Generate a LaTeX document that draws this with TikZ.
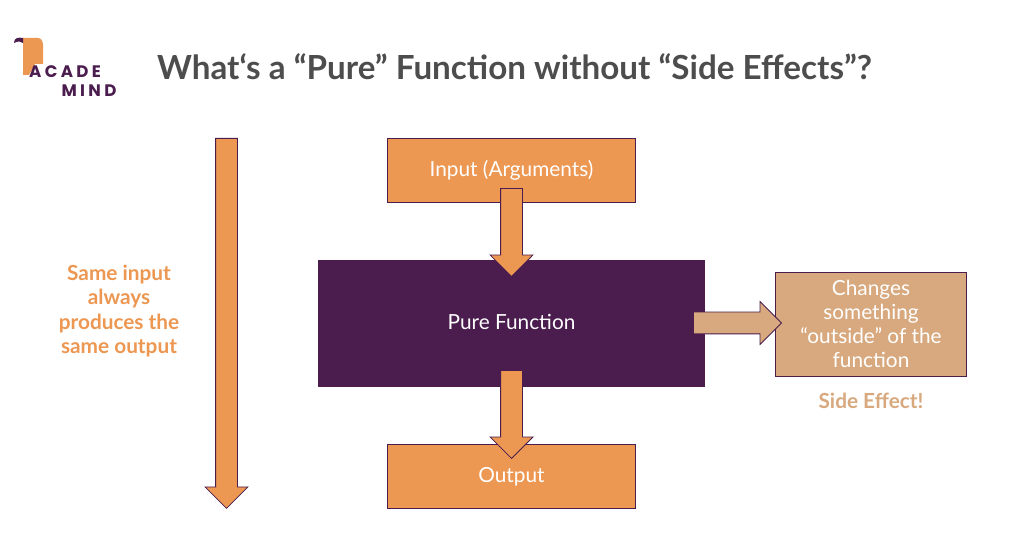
\documentclass[tikz,border=0pt]{standalone}
\usepackage{fontspec}
\setmainfont{Lato}
\newfontfamily\logofont[LetterSpace=20]{Poppins}
\usetikzlibrary{shapes.arrows}
\definecolor{amorange}{HTML}{EC9752}
\definecolor{ampurple}{HTML}{4A1D4E}
\definecolor{amtan}{HTML}{D8A97E}
\definecolor{amgrey}{HTML}{4D4D4D}
\tikzset{
  box/.style={draw=ampurple,line width=0.6pt,inner sep=0pt,align=center,text=white,font=\fontsize{15.6}{18.1}\selectfont},
  inputbox/.style={box,fill=amorange,minimum width=185.5pt,minimum height=48pt,text height=12pt,text depth=1.5pt},
  blockarrow/.style={single arrow,draw=ampurple,line width=0.6pt,fill=amorange,inner sep=0pt,
    text height=15.75pt,text depth=0pt,text width=0pt,single arrow head extend=7.875pt,single arrow tip angle=90},
  note/.style={align=center,font=\fontsize{15.6}{18.2}\bfseries\selectfont},
  logotext/.style={text=ampurple,inner sep=0pt,font=\logofont\fontsize{12.5}{14}\bfseries\selectfont},
}
\begin{document}
\begin{tikzpicture}[x=0.75pt,y=-0.75pt]
    \useasboundingbox (0,0) rectangle (1018,548);

    % logo
    \fill[amorange] (23,38) -- (38,38) .. controls (41,38) and (43,41) .. (43,45) -- (43,64) -- (35,64) -- (29,75) -- (23,75) -- cycle;
    \fill[ampurple] (14,43) .. controls (14,38) and (18,37) .. (23,38) -- (23,43) .. controls (21,41) and (18,41) .. (14,43) -- cycle;
    \node[logotext] (logoa) at (65,71.5) {ACADE};
    \node[logotext] (logob) at (89,90.5) {MIND};

    \node[text=amgrey,inner sep=0pt,font=\fontsize{24.9}{28}\bfseries\selectfont] (title) at (514.5,67) {What‘s a “Pure” Function without “Side Effects”?};

    % boxes
    \node[inputbox] (input) at (511.5,170) {Input (Arguments)};
    \node[box,fill=ampurple,minimum width=290pt,minimum height=94.5pt,text height=12pt,text depth=1.5pt] (pure) at (511.5,323) {Pure Function};
    \node[inputbox] (output) at (511.5,476) {Output};
    \node[box,fill=amtan,minimum width=143.5pt,minimum height=78pt] (side) at (871,324) {Changes\\something\\“outside” of the\\function};

    % arrows
    \node[blockarrow,rotate=-90,minimum height=277.5pt,anchor=tail] (timearrow) at (226.5,138) {};
    \node[blockarrow,rotate=-90,minimum height=66pt,anchor=tip] (inarrow) at (input.south |- 0,277) {};
    \node[blockarrow,rotate=-90,minimum height=66pt,anchor=tip] (outarrow) at (output.north |- 0,459) {};
    \node[blockarrow,fill=amtan,minimum height=66pt,anchor=tip] (sidearrow) at (782,323) {};

    % texts
    \node[note,text=amorange] (same) at (119,311) {Same input\\always\\produces the\\same output};
    \node[note,text=amtan] (effect) at (871,401) {Side Effect!};
\end{tikzpicture}
\end{document}
